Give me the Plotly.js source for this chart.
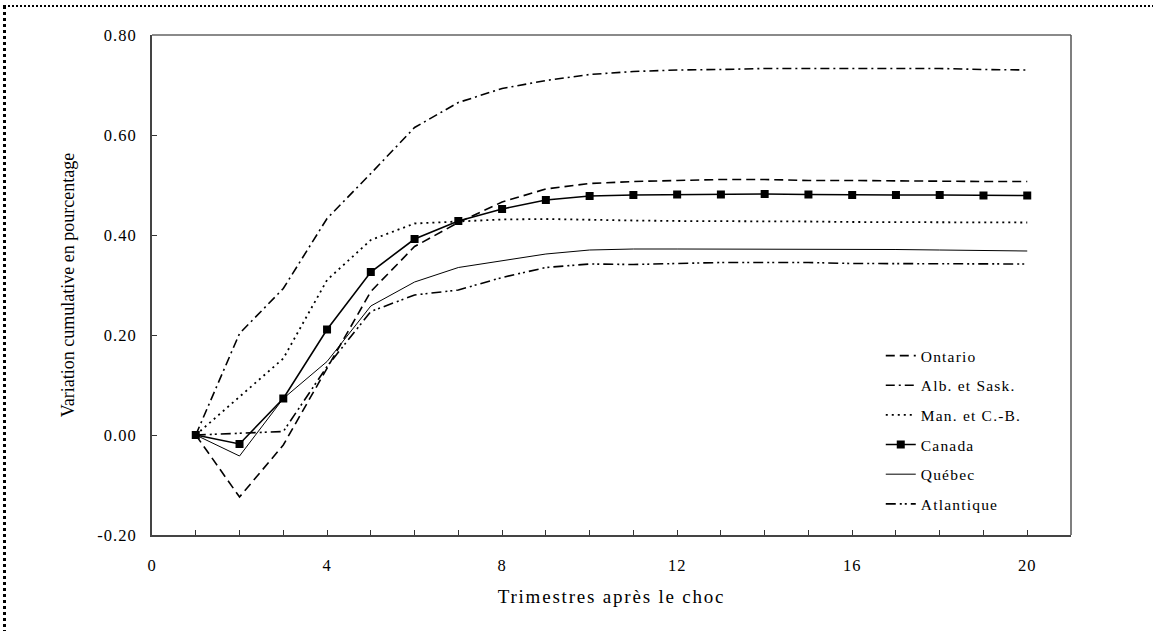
<!DOCTYPE html>
<html>
<head>
<meta charset="utf-8">
<script src="https://cdn.plot.ly/plotly-3.0.1.min.js"></script>
<style>
  html, body { margin: 0; padding: 0; background: #fff; overflow: hidden; }
  #wrap { position: relative; width: 1153px; height: 631px; overflow: hidden; }
  #chart { width: 1153px; height: 631px; }
  #frame { position: absolute; left: 3px; top: 5px; width: 1160px; height: 640px;
           border-left: 3px dotted #000; border-top: 2px dotted #000; pointer-events: none; }
  .xtick text, .ytick text { letter-spacing: 1px; }
  .xtitle { letter-spacing: 1.8px; }
  .legendtext { letter-spacing: 1.2px; }
</style>
</head>
<body>
<div id="wrap"><div id="chart"></div><div id="frame"></div></div>
<script>
const quarters = [1,2,3,4,5,6,7,8,9,10,11,12,13,14,15,16,17,18,19,20];

const ontario   = [0, -0.124, -0.020, 0.135, 0.287, 0.377, 0.425, 0.466, 0.492, 0.503, 0.507, 0.509, 0.511, 0.511, 0.509, 0.509, 0.508, 0.508, 0.507, 0.507];
const albSask   = [0, 0.203, 0.293, 0.433, 0.523, 0.615, 0.665, 0.693, 0.709, 0.721, 0.727, 0.730, 0.731, 0.733, 0.733, 0.733, 0.733, 0.733, 0.731, 0.730];
const manCB     = [0, 0.077, 0.153, 0.310, 0.390, 0.423, 0.427, 0.431, 0.432, 0.430, 0.429, 0.428, 0.428, 0.427, 0.427, 0.426, 0.426, 0.426, 0.425, 0.425];
const canada    = [0, -0.018, 0.073, 0.211, 0.326, 0.392, 0.428, 0.452, 0.470, 0.478, 0.480, 0.481, 0.481, 0.482, 0.481, 0.480, 0.480, 0.480, 0.479, 0.479];
const quebec    = [0, -0.042, 0.073, 0.147, 0.258, 0.306, 0.335, 0.348, 0.362, 0.370, 0.372, 0.372, 0.372, 0.372, 0.372, 0.371, 0.371, 0.370, 0.369, 0.368];
const atlantique= [0, 0.003, 0.007, 0.137, 0.247, 0.280, 0.290, 0.315, 0.335, 0.342, 0.341, 0.343, 0.345, 0.345, 0.345, 0.343, 0.343, 0.343, 0.342, 0.342];

const xTickVals = [0, 4, 8, 12, 16, 20];
const yTickVals = [-0.2, 0, 0.2, 0.4, 0.6, 0.8];
const yTickText = ['-0.20', '0.00', '0.20', '0.40', '0.60', '0.80'];

const serif = 'Liberation Serif, Times New Roman, serif';

function tr(name, y, dash, width, extra) {
  return Object.assign({
    x: quarters, y: y, name: name, type: 'scatter', mode: 'lines',
    legendgroup: name,
    line: { color: '#000', width: width, dash: dash }
  }, extra || {});
}

const data = [
  tr('Ontario', ontario, '9px,5px', 1.6),
  tr('Alb. et Sask.', albSask, '9px,4px,2px,4px', 1.6),
  tr('Man. et C.-B.', manCB, '2px,4px', 1.8),
  tr('Canada', canada, 'solid', 1.6, { mode: 'lines+markers', marker: { symbol: 'square', size: 8, color: '#000' } }),
  tr('Québec', quebec, 'solid', 1),
  tr('Atlantique', atlantique, '10px,4px,2px,3px,2px,4px', 1.6)
];

const layout = {
  width: 1153, height: 631,
  margin: { l: 152, r: 82, t: 35, b: 96 },
  paper_bgcolor: '#fff', plot_bgcolor: '#fff',
  font: { family: serif, color: '#000', size: 16 },
  showlegend: true,
  legend: {
    x: 0.793, y: 0.392, xanchor: 'left', yanchor: 'top',
    traceorder: 'grouped', tracegroupgap: 6.5,
    font: { family: serif, size: 15.5, color: '#000' },
    bgcolor: 'rgba(0,0,0,0)', borderwidth: 0
  },
  xaxis: {
    range: [0, 21], tickvals: xTickVals, ticktext: xTickVals.map(String),
    ticks: 'inside', ticklen: 5, tickcolor: '#333', tickwidth: 1,
    minor: { dtick: 1, tick0: 0, ticks: 'inside', ticklen: 5, tickcolor: '#333', tickwidth: 1, showgrid: false },
    showgrid: false, zeroline: false,
    showline: true, linecolor: '#444', linewidth: 2,
    ticklabelstandoff: 14,
    tickfont: { family: serif, size: 16.5, color: '#000' },
    title: { text: 'Trimestres après le choc', font: { family: serif, size: 19, color: '#000' }, standoff: 16 }
  },
  yaxis: {
    range: [-0.2, 0.8], tickvals: yTickVals, ticktext: yTickText,
    ticks: 'inside', ticklen: 5, tickcolor: '#333', tickwidth: 1,
    showgrid: false, zeroline: false,
    showline: true, linecolor: '#444', linewidth: 2,
    ticklabelstandoff: 10,
    tickfont: { family: serif, size: 16.5, color: '#000' },
    title: { text: 'Variation cumulative en pourcentage', font: { family: serif, size: 18, color: '#000' }, standoff: 18 }
  },
  shapes: [
    { type: 'line', xref: 'paper', yref: 'paper', x0: 0, x1: 1, y0: 1, y1: 1, line: { color: '#8a8a8a', width: 2 }, layer: 'below' },
    { type: 'line', xref: 'paper', yref: 'paper', x0: 1, x1: 1, y0: 0, y1: 1, line: { color: '#555', width: 1.5 }, layer: 'below' }
  ]
};

Plotly.newPlot('chart', data, layout, { displayModeBar: false, staticPlot: true });
</script>
</body>
</html>
